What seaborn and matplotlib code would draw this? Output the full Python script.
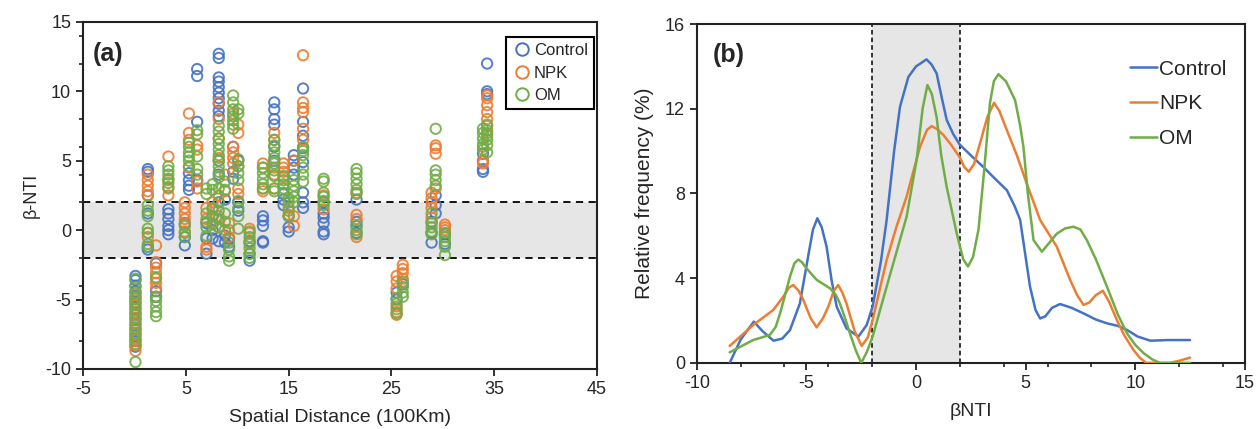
import matplotlib
matplotlib.use("Agg")
import matplotlib.pyplot as plt
from matplotlib.lines import Line2D
from matplotlib.ticker import FixedLocator
import seaborn as sns
import pandas as pd

sns.set_theme(style="ticks")
plt.rcParams['font.family'] = ['Liberation Sans', 'DejaVu Sans']
plt.rcParams['axes.unicode_minus'] = False

groups = ["Control", "NPK", "OM"]
colors = {"Control": "#4472C4", "NPK": "#ED7D31", "OM": "#70AD47"}

# (a) spatial distance columns and beta-NTI values per column
distances = [0.1, 1.3, 2.1, 3.3, 4.9, 5.3, 6.1, 7.0, 7.6, 8.2, 8.8, 9.2, 9.6, 10.1, 11.2,
             12.5, 13.6, 14.5, 15.0, 15.5, 16.4, 18.4, 21.6, 25.5, 26.1, 28.9, 29.3, 30.2, 33.9, 34.3]

control_vals = [
    [-3.3, -3.6, -4.0, -4.4, -4.8, -5.2, -5.6, -6.0, -6.4, -6.8, -7.2, -7.6, -8.0, -8.4],
    [4.4, 4.2, 2.5, 1.2, -1.2, -1.4],
    [-2.4, -4.4, -4.8],
    [1.5, 1.2, 0.8, 0.3, 0.0, -0.3],
    [0.5, -0.5, -1.1],
    [4.1, 3.6, 3.2, 2.9],
    [11.6, 11.1, 7.8, 3.6],
    [-1.7, -0.6, 0.5],
    [0.0, -0.6, 1.0],
    [12.7, 12.4, 11.0, 10.7, 10.3, 9.9, 9.5, 9.1, 8.6, 8.2, 5.0, 4.0, 2.0, -0.8],
    [2.2, -0.9, -0.4],
    [-1.2, -0.6],
    [6.0, 4.2, 3.7],
    [5.0, 2.0, 1.4],
    [-0.8, -1.7, -2.2],
    [1.0, 0.7, 0.3, -0.8, -0.9],
    [9.2, 8.7, 8.0, 7.6, 6.0, 5.0],
    [2.6, 2.2, 1.8],
    [1.0, 0.2, -0.1],
    [5.4, 5.0, 4.5, 4.0],
    [10.2, 7.8, 6.8, 5.9, 4.9, 2.7, 2.0, 1.6],
    [2.0, 1.2, 0.9, 0.5, -0.1, -0.3],
    [2.2, 0.6, 0.3, -0.2],
    [-4.5, -5.0],
    [-3.9],
    [0.6, -0.2, -0.9],
    [2.5, 1.8, 1.2],
    [-0.3, -1.0],
    [5.5, 5.0, 4.4, 4.2],
    [12.0, 10.0, 9.8],
]

npk_vals = [
    [-4.6, -5.0, -5.4, -5.9, -6.3, -6.7, -7.1, -7.5, -7.9, -8.3, -8.7],
    [4.0, 3.6, 3.2, 2.8, 2.5, -0.2, -0.5],
    [-1.1, -2.3, -2.7, -3.1, -3.5, -3.8, -4.2],
    [5.3, 3.6, 3.0, 2.5],
    [2.0, 1.6, 1.2, 0.8, 0.4, -0.1],
    [8.4, 7.0, 6.5, 4.5],
    [6.1, 5.8, 3.5, 3.0],
    [1.6, 0.8, -1.2, -1.4],
    [1.5, 0.5, 2.0],
    [9.2, 8.0, 6.6, 5.2, 2.5, 1.0, 0.2],
    [2.8, 4.0],
    [0.5, 0.0, -0.5],
    [8.4, 6.0, 5.6, 5.2, 4.8],
    [7.6, 7.0, 4.6, 3.0, 2.6],
    [0.1, -0.2, -1.0],
    [4.8, 4.5, 3.0, 2.8],
    [7.0, 6.5, 4.5, 4.0, 3.0],
    [4.8, 4.5, 4.2, 3.8],
    [1.6, 1.1],
    [5.0, 1.0, 0.3],
    [12.6, 9.2, 8.8, 8.5, 7.3, 6.5],
    [2.5, 1.5],
    [2.7, 1.1, 0.8, -0.5],
    [-3.3, -3.7, -4.2, -5.5, -5.9, -6.1],
    [-2.5, -2.8, -3.1, -3.5],
    [2.7, 2.3, 2.0, 1.6, 0.9],
    [6.1, 5.9, 5.5, 3.0],
    [0.4, 0.2, 0.0],
    [6.0, 5.0, 4.8],
    [9.7, 9.5, 9.0, 8.5, 8.0, 7.5, 7.0],
]

om_vals = [
    [-3.5, -4.1, -4.5, -4.9, -5.3, -5.7, -6.1, -6.5, -7.0, -7.4, -7.8, -8.2, -9.5],
    [1.8, 1.4, 1.0, 0.1, -0.2, -1.0, -1.2],
    [-3.4, -4.8, -5.1, -5.5, -5.9, -6.2],
    [4.6, 4.3, 4.0, 3.7, 3.4, 3.1],
    [0.3, -0.2, -0.5],
    [6.3, 6.0, 5.6, 5.3, 5.0, 4.6],
    [7.2, 6.9, 5.3, 4.4, 4.0],
    [3.0, 2.6, 1.2, 0.6, 0.2, -0.4],
    [3.3, 2.9, 1.6, 1.0, 0.4],
    [7.5, 7.1, 6.6, 6.2, 5.8, 5.4, 5.0, 4.6, 4.2, 3.8, 3.0, 2.0, 1.4, 0.8, 0.2],
    [3.5, 2.9, 1.2, 0.6, 0.0],
    [-0.9, -1.4, -1.9, -2.2],
    [9.7, 9.2, 8.7, 8.2, 7.9, 7.6, 7.3],
    [8.7, 8.4, 5.1, 4.6, 4.1, 3.6, 2.1, 1.6, 1.0, 0.1],
    [-0.1, -0.5, -0.9, -1.3, -1.7, -2.0],
    [4.5, 4.1, 3.7, 3.3, 3.0],
    [6.5, 6.1, 5.6, 5.2, 4.8, 4.3, 3.9, 3.0, 2.8],
    [3.9, 3.6, 3.3, 3.0, 2.7],
    [2.3, 2.0, 1.4, 1.0],
    [3.6, 3.2, 2.8, 2.4, 2.0],
    [6.0, 5.7, 5.4, 4.5, 4.0, 3.5],
    [3.7, 3.5, 2.7, 2.4, 2.1, 1.8],
    [4.4, 4.1, 3.7, 3.3, 2.9, 2.6, 0.3, 0.0, -0.3],
    [-4.9, -5.3, -5.7, -6.0],
    [-3.7, -4.1, -4.5, -4.8],
    [1.2, 0.5, 0.2, -0.1, -0.3],
    [7.3, 4.3, 4.0, 3.6, 3.2],
    [-0.2, -0.5, -0.8, -1.2, -1.8],
    [7.3, 7.0, 6.6, 6.2, 5.8],
    [7.6, 7.2, 6.8, 6.5, 6.1, 5.6],
]

# (b) relative frequency curves of beta-NTI
control_x = [-8.5, -8.0, -7.4, -7.0, -6.5, -6.1, -5.75, -5.3, -4.9, -4.7, -4.5, -4.3, -4.08,
             -3.85, -3.62, -3.17, -2.63, -2.25, -1.98, -1.6, -1.34, -1.0, -0.73, -0.35, 0.0,
             0.48, 0.7, 0.94, 1.2, 1.4, 1.7, 2.0, 2.5, 3.06, 3.6, 4.14, 4.5, 4.75, 5.0, 5.2,
             5.45, 5.66, 5.9, 6.2, 6.57, 7.1, 7.64, 8.2, 8.71, 9.2, 9.62, 10.1, 10.69, 11.5, 12.5]
control_y = [0.0, 1.1, 1.95, 1.5, 1.05, 1.15, 1.55, 2.8, 5.15, 6.3, 6.83, 6.4, 5.49,
             3.9, 2.66, 1.63, 1.24, 1.79, 2.66, 4.8, 6.75, 10.0, 12.1, 13.5, 14.0,
             14.33, 14.1, 13.67, 12.4, 11.47, 10.8, 10.3, 9.8, 9.26, 8.7, 8.16, 7.4, 6.75, 5.0, 3.6,
             2.5, 2.1, 2.2, 2.6, 2.78, 2.6, 2.34, 2.05, 1.87, 1.75, 1.56, 1.25, 1.05, 1.08, 1.08]

npk_x = [-8.5, -7.43, -6.51, -6.06, -5.8, -5.6, -5.35, -5.14, -4.8, -4.53, -4.25, -4.0, -3.75,
         -3.55, -3.35, -3.17, -2.8, -2.48, -2.2, -1.98, -1.34, -0.9, -0.43, 0.18, 0.5, 0.71,
         0.95, 1.25, 1.6, 2.0, 2.2, 2.41, 2.65, 2.92, 3.25, 3.56, 3.8, 4.14, 4.6, 5.05, 5.66,
         6.42, 7.03, 7.35, 7.64, 7.9, 8.2, 8.52, 8.8, 9.16, 9.5, 9.92, 10.2, 10.5, 11.0,
         11.57, 12.0, 12.5]
npk_y = [0.8, 1.79, 2.5, 3.12, 3.55, 3.68, 3.4, 2.97, 2.1, 1.68, 2.1, 2.66, 3.4,
         3.68, 3.3, 2.8, 1.5, 0.8, 1.2, 2.03, 4.86, 6.4, 7.85, 10.2, 11.0, 11.18,
         11.05, 10.76, 10.3, 9.7, 9.25, 9.03, 9.4, 10.37, 11.6, 12.28, 11.9, 11.0, 9.8, 8.47, 6.75,
         5.49, 3.92, 3.2, 2.74, 2.85, 3.2, 3.41, 2.9, 2.03, 1.3, 0.61, 0.25, 0.0, 0.0,
         0.0, 0.1, 0.25]

om_x = [-8.5, -7.43, -6.67, -6.4, -6.2, -5.95, -5.75, -5.55, -5.37, -5.2, -4.99, -4.53, -3.92,
        -3.65, -3.47, -3.2, -3.01, -2.75, -2.5, -2.25, -1.98, -1.34, -0.9, -0.43, 0.03, 0.3,
        0.52, 0.72, 0.94, 1.15, 1.4, 1.86, 2.15, 2.37, 2.6, 2.85, 3.1, 3.37, 3.55, 3.76, 4.1,
        4.52, 4.75, 4.9, 5.1, 5.36, 5.74, 6.1, 6.42, 6.8, 7.18, 7.5, 7.79, 8.2, 8.71, 9.2,
        9.62, 10.0, 10.38, 10.8, 11.14, 12.5]
om_y = [0.5, 1.08, 1.32, 1.7, 2.34, 3.3, 4.07, 4.7, 4.88, 4.75, 4.46, 3.92, 3.52,
        3.2, 2.8, 2.0, 1.38, 0.6, 0.0, 0.5, 1.24, 3.6, 5.2, 6.9, 9.6, 12.0,
        13.12, 12.7, 11.6, 9.8, 8.3, 6.1, 4.9, 4.55, 5.0, 6.3, 9.0, 12.25, 13.3, 13.63, 13.3,
        12.4, 11.2, 10.2, 8.0, 5.8, 5.25, 5.7, 6.1, 6.35, 6.43, 6.3, 5.8, 4.9, 3.6, 2.3,
        1.4, 0.85, 0.46, 0.15, 0.0, 0.0]

# long tables
rows = []
for g, vals in zip(groups, [control_vals, npk_vals, om_vals]):
    for d, col in zip(distances, vals):
        for v in col:
            rows.append({"group": g, "dist": d, "bnti": v})
scatter_df = pd.DataFrame(rows)

curves = {"Control": (control_x, control_y), "NPK": (npk_x, npk_y), "OM": (om_x, om_y)}
line_df = pd.concat([pd.DataFrame({"group": g, "x": xs, "y": ys}) for g, (xs, ys) in curves.items()],
                    ignore_index=True)

fig = plt.figure(figsize=(12.6, 4.29), dpi=100)
ax1 = fig.add_axes([0.0659, 0.140, 0.408, 0.809])
ax2 = fig.add_axes([0.553, 0.154, 0.435, 0.790])

# ---- (a)
ax1.axhspan(-2, 2, color="#e6e6e6", zorder=0, lw=0)
for yv in (2, -2):
    ax1.axhline(yv, color="black", lw=1.3, ls=(0, (4, 3)), zorder=1)
sns.scatterplot(data=scatter_df, x="dist", y="bnti", hue="group", palette=colors,
                s=55, legend=False, ax=ax1, zorder=3)
coll = ax1.collections[-1]
fc = coll.get_facecolors()
coll.set_edgecolors(fc)
coll.set_facecolors("none")
coll.set_linewidths(1.4)
coll.set_alpha(0.9)

ax1.set_xlim(-5, 45)
ax1.set_ylim(-10, 15)
ax1.set_xticks(range(-5, 46, 10))
ax1.set_yticks(range(-10, 16, 5))
ax1.yaxis.set_minor_locator(FixedLocator([-8, -6, -4, -2, 2, 4, 6, 8, 12, 14]))
ax1.set_xlabel("Spatial Distance (100Km)", fontsize=14, labelpad=8)
ax1.set_ylabel("β-NTI", fontsize=13)
ax1.text(0.019, 0.908, "(a)", transform=ax1.transAxes, fontsize=18, fontweight="bold",
         va="center", ha="left")
handles = [Line2D([], [], marker="o", ls="", mfc="none", mec=colors[g], mew=1.4, ms=9)
           for g in groups]
leg1 = ax1.legend(handles, groups, loc="upper right", bbox_to_anchor=(1.0, 0.965),
                  fontsize=12, frameon=True, fancybox=False, framealpha=1, edgecolor="black",
                  handletextpad=0.1, borderpad=0.35, labelspacing=0.45, borderaxespad=0.2,
                  handlelength=1.2)
leg1.get_frame().set_linewidth(1.5)

# ---- (b)
ax2.axvspan(-2, 2, color="#e6e6e6", zorder=0, lw=0)
for xv in (-2, 2):
    ax2.axvline(xv, color="black", lw=1.1, ls=(0, (3, 2)), zorder=1)
sns.lineplot(data=line_df, x="x", y="y", hue="group", palette=colors, lw=1.8,
             estimator=None, sort=False, ax=ax2, zorder=3)
ax2.set_xlim(-10, 15)
ax2.set_ylim(0, 16)
ax2.set_xticks(range(-10, 16, 5))
ax2.xaxis.set_minor_locator(FixedLocator([-8, -6, -4, -2, 2, 4, 6, 8, 12, 14]))
ax2.set_yticks(range(0, 17, 4))
ax2.set_xlabel("βNTI", fontsize=14, labelpad=8)
ax2.set_ylabel("Relative frequency (%)", fontsize=15, labelpad=8)
ax2.text(0.029, 0.909, "(b)", transform=ax2.transAxes, fontsize=18, fontweight="bold",
         va="center", ha="left")
leg2 = ax2.legend(loc="upper right", bbox_to_anchor=(1.0, 0.95), frameon=False, fontsize=15,
                  handlelength=1.3, handletextpad=0.1, labelspacing=0.75, title=None)

for ax in (ax1, ax2):
    for sp in ax.spines.values():
        sp.set_linewidth(1.5)
        sp.set_color("#222222")
    ax.tick_params(which="major", direction="out", length=5, width=1.3, labelsize=13,
                   color="#222222")
    ax.tick_params(which="minor", direction="out", length=3, width=1.2, color="#222222")

fig.savefig("out.png", dpi=100)
